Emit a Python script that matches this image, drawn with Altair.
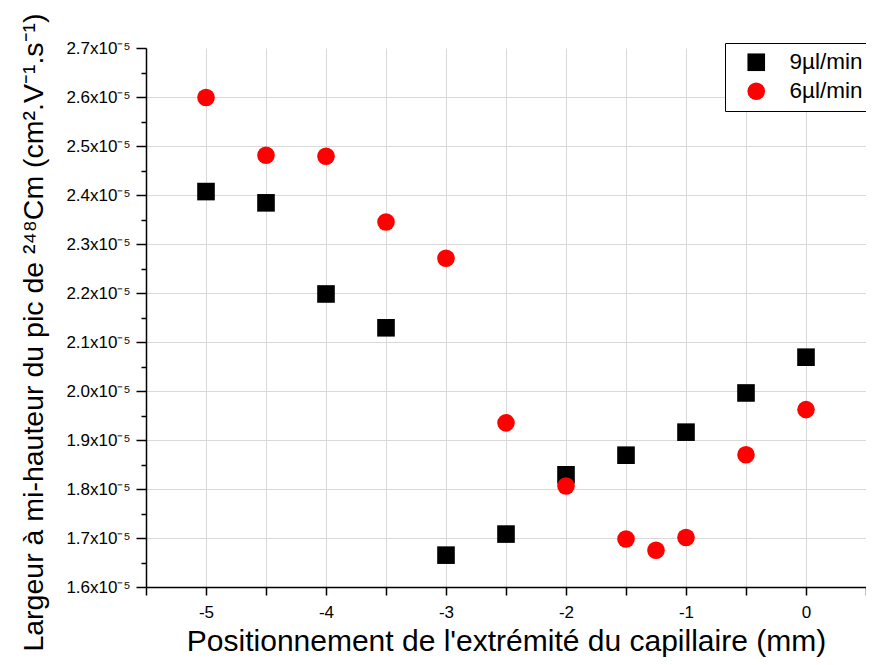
import altair as alt
import pandas as pd

# Data (y values in units of 1e-5 cm^2 V^-1 s^-1)
series_names = ["9µl/min", "6µl/min"]
x_9 = [-5, -4.5, -4, -3.5, -3, -2.5, -2, -1.5, -1, -0.5, 0]
y_9 = [2.407, 2.384, 2.198, 2.129, 1.665, 1.708, 1.829, 1.869, 1.916, 1.996, 2.069]
x_6 = [-5, -4.5, -4, -3.5, -3, -2.5, -2, -1.5, -1.25, -1, -0.5, 0]
y_6 = [2.599, 2.481, 2.479, 2.345, 2.271, 1.935, 1.806, 1.698, 1.675, 1.701, 1.870, 1.962]

x_ticks = [-5.5, -5, -4.5, -4, -3.5, -3, -2.5, -2, -1.5, -1, -0.5, 0, 0.5]
y_major = [1.6, 1.7, 1.8, 1.9, 2.0, 2.1, 2.2, 2.3, 2.4, 2.5, 2.6, 2.7]
y_minor = [1.65, 1.75, 1.85, 1.95, 2.05, 2.15, 2.25, 2.35, 2.45, 2.55, 2.65]

x_title = "Positionnement de l'extrémité du capillaire (mm)"
y_title = "Largeur à mi-hauteur du pic de ²⁴⁸Cm (cm².V⁻¹.s⁻¹)"

df = pd.DataFrame(
    {
        "x": x_9 + x_6,
        "y": y_9 + y_6,
        "serie": [series_names[0]] * len(x_9) + [series_names[1]] * len(x_6),
    }
)

FONT = "Liberation Sans"

x_enc = alt.X(
    "x:Q",
    scale=alt.Scale(domain=[-5.5, 0.5], nice=False, zero=False),
    axis=alt.Axis(
        values=x_ticks,
        labelExpr="datum.value % 1 == 0 ? datum.value + '' : ''",
        tickSize=8,
        tickWidth=1.5,
        tickColor="black",
        domainColor="black",
        domainWidth=1.5,
        labelFont=FONT,
        labelFontSize=17,
        labelColor="black",
        labelPadding=9,
        grid=True,
        gridColor="#d9d9d9",
        gridWidth=1,
        gridOpacity={"condition": {"test": "datum.value > 0.4", "value": 0}, "value": 1},
        title=x_title,
        titleFont=FONT,
        titleFontSize=30,
        titleFontWeight="normal",
        titleColor="black",
        titleBaseline="alphabetic",
        titleY=63,
    ),
)

y_scale = alt.Scale(domain=[1.6, 2.7], nice=False, zero=False)

legend_def = alt.Legend(
    title=None,
    orient="none",
    legendX=579,
    legendY=-5,
    strokeColor="black",
    fillColor="white",
    padding=8,
    labelFont=FONT,
    labelFontSize=22.5,
    labelColor="black",
    labelOffset=22,
    symbolSize=310,
    symbolStrokeWidth=0,
    symbolOffset=12,
    rowPadding=6,
)

main = (
    alt.Chart(df)
    .mark_point(filled=True, opacity=1, size=310, strokeWidth=0)
    .encode(
        x=x_enc,
        y=alt.Y(
            "y:Q",
            scale=y_scale,
            axis=alt.Axis(
                orient="left",
                values=y_major,
                labelExpr="format(datum.value, '.1f') + 'x10⁻⁵'",
                tickSize=10,
                tickWidth=1.5,
                tickColor="black",
                domainColor="black",
                domainWidth=1.5,
                labelFont=FONT,
                labelFontSize=17,
                labelColor="black",
                labelPadding=6,
                grid=True,
                gridColor="#d9d9d9",
                gridWidth=1,
                gridOpacity={"condition": {"test": "datum.value > 2.69", "value": 0}, "value": 1},
                title=y_title,
                titleFont=FONT,
                titleFontSize=28.5,
                titleFontWeight="normal",
                titleColor="black",
                titleAngle=270,
                titleAlign="center",
                titleBaseline="alphabetic",
                titleX=-104,
                titleY=284,
            ),
        ),
        color=alt.Color(
            "serie:N",
            scale=alt.Scale(domain=series_names, range=["#000000", "#ff0000"]),
            legend=legend_def,
        ),
        shape=alt.Shape(
            "serie:N",
            scale=alt.Scale(domain=series_names, range=["square", "circle"]),
            legend=legend_def,
        ),
        order=alt.Order("serie:N", sort="descending"),
    )
)

minor = (
    alt.Chart(df)
    .mark_point(opacity=0, size=1)
    .encode(
        x=x_enc,
        y=alt.Y(
            "y:Q",
            scale=y_scale,
            axis=alt.Axis(
                orient="left",
                values=y_minor,
                labels=False,
                grid=False,
                domain=False,
                tickSize=5,
                tickWidth=1.5,
                tickColor="black",
                title=None,
            ),
        ),
    )
)

chart = (
    alt.layer(minor, main)
    .resolve_axis(y="independent")
    .properties(
        width=720,
        height=539,
        autosize=alt.AutoSizeParams(type="none"),
        padding={"left": 138, "top": 40, "right": 0, "bottom": 70},
        background="white",
    )
    .configure_view(stroke=None)
)

chart.save("out.html", embed_options={"renderer": "svg", "actions": False})
